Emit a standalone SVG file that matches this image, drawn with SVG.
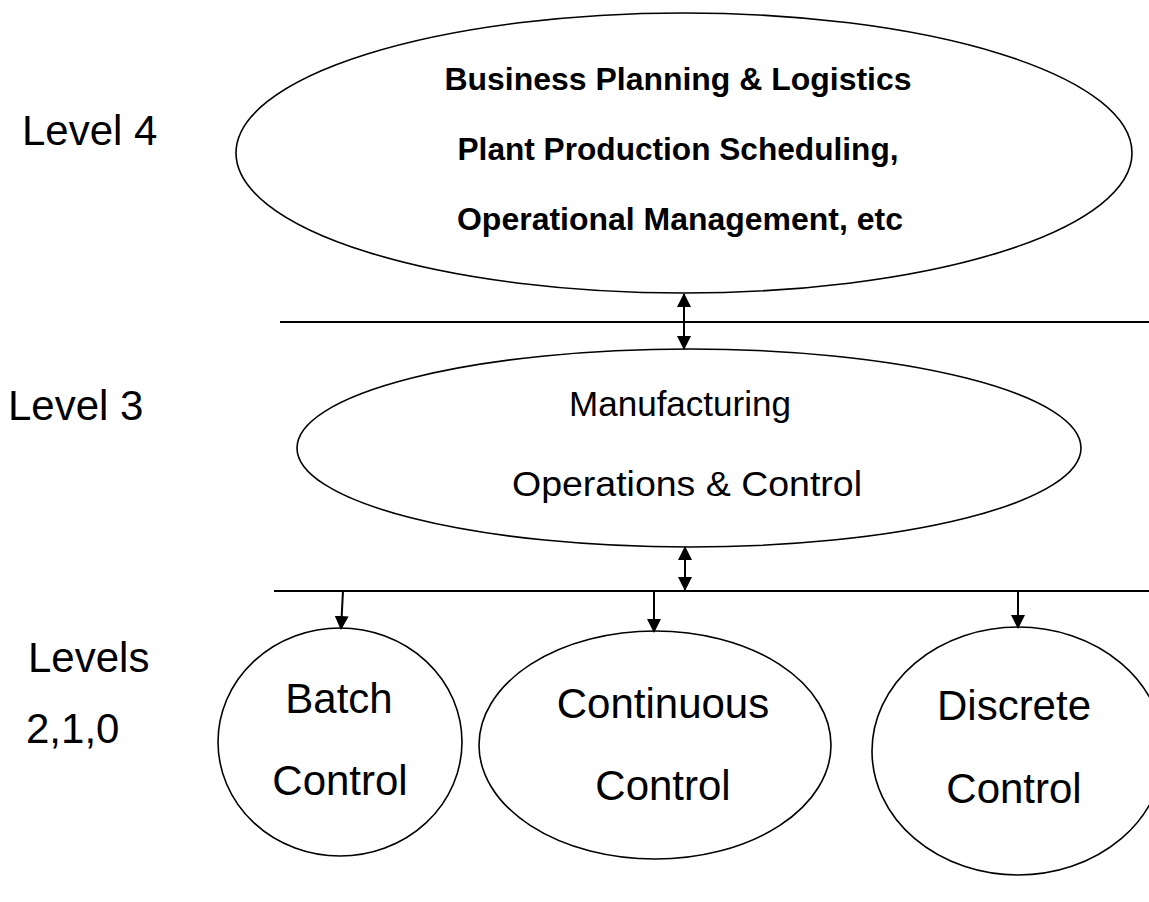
<svg xmlns="http://www.w3.org/2000/svg" width="1149" height="902" viewBox="0 0 1149 902">
<style>
.shape{fill:#fff;stroke:#000;stroke-width:1.6}
.rule{stroke:#000;stroke-width:2}
.conn{stroke:#000;stroke-width:2;fill:none}
.t{font-family:"Liberation Sans",Arial,sans-serif;fill:#000}
.big{font-size:42px}
.mid{font-size:35px}
.bold{font-size:31px;font-weight:bold}
</style>
<defs>
<marker id="ah" viewBox="0 0 14 14" refX="13" refY="7" markerWidth="14" markerHeight="14" markerUnits="userSpaceOnUse" orient="auto-start-reverse">
<path d="M0,0 L14,7 L0,14 Z" fill="#000"/>
</marker>
</defs>
<rect width="1149" height="902" fill="#fff"/>
<g id="labels">
<text class="t big" x="22" y="145">Level 4</text>
<text class="t big" x="8" y="420">Level 3</text>
<text class="t big" x="28" y="672">Levels</text>
<text class="t big" x="26" y="743">2,1,0</text>
</g>
<g id="rules">
<line class="rule" x1="280" y1="322" x2="1149" y2="322"/>
<line class="rule" x1="274" y1="591" x2="1149" y2="591"/>
</g>
<g id="level4">
<ellipse class="shape" cx="684" cy="153" rx="448" ry="140"/>
<text class="t bold" x="678" y="90" text-anchor="middle" textLength="467" lengthAdjust="spacingAndGlyphs">Business Planning &amp; Logistics</text>
<text class="t bold" x="678" y="160" text-anchor="middle" textLength="441" lengthAdjust="spacingAndGlyphs">Plant Production Scheduling,</text>
<text class="t bold" x="680" y="230" text-anchor="middle" textLength="446" lengthAdjust="spacingAndGlyphs">Operational Management, etc</text>
</g>
<g id="level3">
<ellipse class="shape" cx="689" cy="448" rx="392" ry="99"/>
<text class="t mid" x="680" y="416" text-anchor="middle" textLength="222" lengthAdjust="spacingAndGlyphs">Manufacturing</text>
<text class="t mid" x="687" y="496" text-anchor="middle" textLength="350" lengthAdjust="spacingAndGlyphs">Operations &amp; Control</text>
</g>
<g id="batch">
<ellipse class="shape" cx="340" cy="742" rx="122" ry="114"/>
<text class="t big" x="339" y="713" text-anchor="middle">Batch</text>
<text class="t big" x="340" y="795" text-anchor="middle">Control</text>
</g>
<g id="continuous">
<ellipse class="shape" cx="655" cy="745" rx="176" ry="114"/>
<text class="t big" x="663" y="718" text-anchor="middle">Continuous</text>
<text class="t big" x="663" y="800" text-anchor="middle">Control</text>
</g>
<g id="discrete">
<ellipse class="shape" cx="1018" cy="751" rx="146" ry="124"/>
<text class="t big" x="1014" y="720" text-anchor="middle">Discrete</text>
<text class="t big" x="1014" y="803" text-anchor="middle">Control</text>
</g>
<g id="connectors">
<line class="conn" x1="684" y1="294" x2="684" y2="349" marker-start="url(#ah)" marker-end="url(#ah)"/>
<line class="conn" x1="685" y1="547" x2="685" y2="590" marker-start="url(#ah)" marker-end="url(#ah)"/>
<line class="conn" x1="343" y1="591" x2="341" y2="629" marker-end="url(#ah)"/>
<line class="conn" x1="654" y1="591" x2="654" y2="632" marker-end="url(#ah)"/>
<line class="conn" x1="1018" y1="591" x2="1018" y2="628" marker-end="url(#ah)"/>
</g>
</svg>
